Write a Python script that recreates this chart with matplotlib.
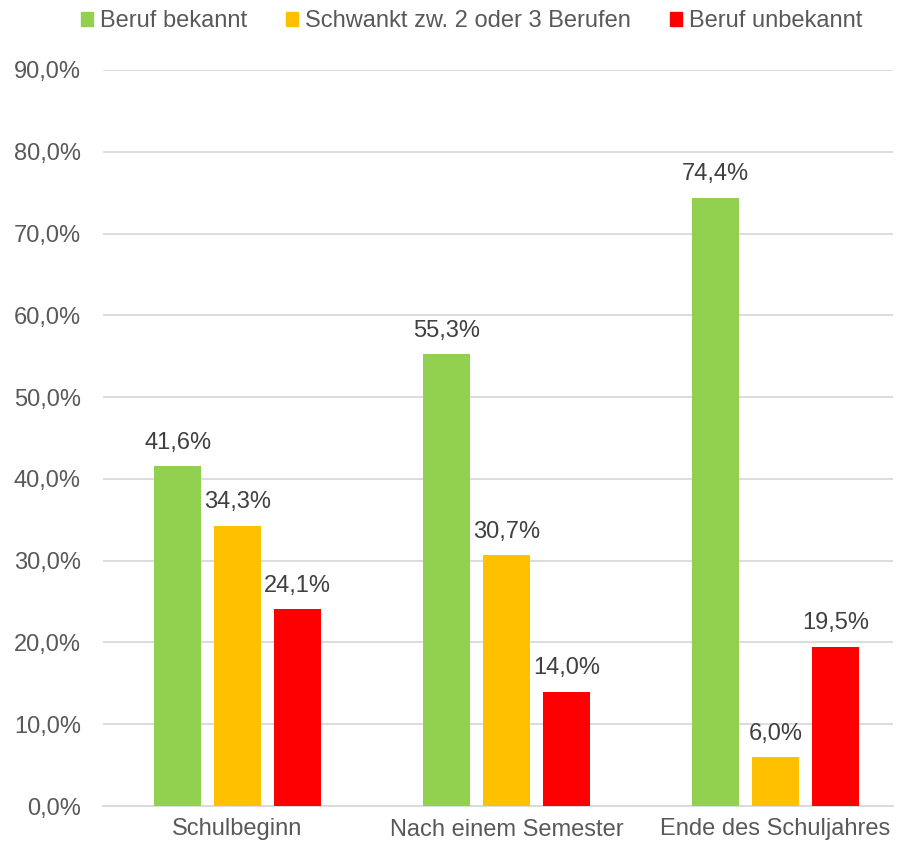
import numpy as np
import matplotlib.pyplot as plt
from matplotlib.patches import Patch

plt.rcParams['font.family'] = ['Liberation Sans', 'DejaVu Sans']

categories = ['Schulbeginn', 'Nach einem Semester', 'Ende des Schuljahres']
series_names = ['Beruf bekannt', 'Schwankt zw. 2 oder 3 Berufen', 'Beruf unbekannt']
bekannt = [41.6, 55.3, 74.4]
schwankt = [34.3, 30.7, 6.0]
unbekannt = [24.1, 14.0, 19.5]
yticks = [0, 10, 20, 30, 40, 50, 60, 70, 80, 90]

colors = ['#92D050', '#FFC000', '#FF0000']
text_color = '#595959'

fig = plt.figure(figsize=(9.02, 8.48), dpi=100)
ax = fig.add_axes([103 / 902, 1 - 806 / 848, 790 / 902, 736 / 848])

x = np.arange(len(categories))
width = 0.174
offset = 0.2226
for i, (vals, col) in enumerate(zip([bekannt, schwankt, unbekannt], colors)):
    pos = x + (i - 1) * offset
    ax.bar(pos, vals, width=width, color=col, zorder=3)
    for p, v in zip(pos, vals):
        ax.text(p, v + 1.5, f'{v:.1f}%'.replace('.', ','), ha='center', va='bottom',
                fontsize=17, color='#404040')

ax.set_xlim(-0.5, 2.437)
ax.set_ylim(0, 90)
ax.set_yticks(yticks)
ax.set_yticklabels([f'{t:.1f}%'.replace('.', ',') for t in yticks], fontsize=17, color=text_color)
ax.set_xticks(x)
ax.set_xticklabels(categories, fontsize=17, color=text_color)
ax.tick_params(axis='y', length=0, pad=16)
ax.tick_params(axis='x', length=0, pad=9)
ax.grid(axis='y', color='#D9D9D9', linewidth=1.3, zorder=0)
for s in ['top', 'right', 'left']:
    ax.spines[s].set_visible(False)
ax.spines['bottom'].set_color('#D9D9D9')
ax.spines['bottom'].set_linewidth(1.3)

handles = [Patch(color=c, label=n) for c, n in zip(colors, series_names)]
fig.legend(handles=handles, loc='upper center', bbox_to_anchor=(0.523, 1.013), ncol=3,
           frameon=False, fontsize=17, handlelength=0.5, handleheight=0.5,
           handletextpad=0.3, columnspacing=1.65, labelcolor=text_color)

fig.savefig('out.png', dpi=100)
